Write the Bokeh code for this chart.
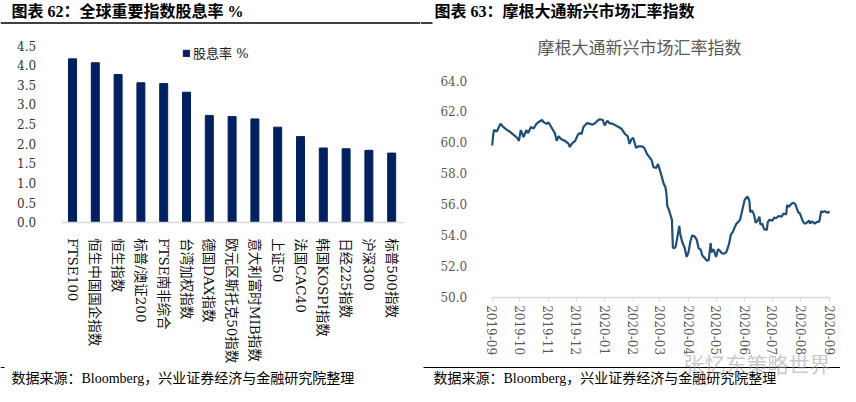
import math
import pandas as pd
from bokeh.plotting import figure
from bokeh.layouts import row
from bokeh.models import (Label, BoxAnnotation, Range1d, FixedTicker, LinearAxis, DatetimeAxis,
                          DatetimeTickFormatter, NumeralTickFormatter, Legend, LegendItem,
                          ColumnDataSource)
from bokeh.embed import file_html
from bokeh.resources import INLINE

# ---------------- data ----------------
categories = ["FTSE100", "恒生中国国企指数", "恒生指数", "标普/澳证200", "FTSE南非综合",
              "台湾加权指数", "德国DAX指数", "欧元区斯托克50指数", "意大利富时MIB指数", "上证50",
              "法国CAC40", "韩国KOSPI指数", "日经225指数", "沪深300", "标普500指数"]
dividend_yield = [4.16, 4.06, 3.76, 3.55, 3.53, 3.31, 2.72, 2.69, 2.63, 2.42,
                  2.18, 1.89, 1.87, 1.83, 1.76]
left_y_ticks = [0.0, 0.5, 1.0, 1.5, 2.0, 2.5, 3.0, 3.5, 4.0, 4.5]

fx_dates = ["2019-09-01", "2019-09-02", "2019-09-03", "2019-09-06", "2019-09-10", "2019-09-13",
            "2019-09-17", "2019-09-20", "2019-09-24", "2019-09-28", "2019-09-30", "2019-10-02",
            "2019-10-05", "2019-10-08", "2019-10-10", "2019-10-13", "2019-10-16", "2019-10-19",
            "2019-10-21", "2019-10-25", "2019-10-27", "2019-10-30", "2019-11-01", "2019-11-05",
            "2019-11-08", "2019-11-10", "2019-11-12", "2019-11-15", "2019-11-19", "2019-11-23",
            "2019-11-24", "2019-11-27", "2019-11-30", "2019-12-03", "2019-12-05", "2019-12-07",
            "2019-12-09", "2019-12-13", "2019-12-16", "2019-12-19", "2019-12-22", "2019-12-24",
            "2019-12-27", "2019-12-30", "2020-01-01", "2020-01-04", "2020-01-06", "2020-01-10",
            "2020-01-16", "2020-01-19", "2020-01-23", "2020-01-26", "2020-01-28", "2020-01-30",
            "2020-02-01", "2020-02-04", "2020-02-07", "2020-02-10", "2020-02-13", "2020-02-16",
            "2020-02-18", "2020-02-21", "2020-02-23", "2020-02-26", "2020-02-28", "2020-03-02",
            "2020-03-05", "2020-03-07", "2020-03-08", "2020-03-09", "2020-03-11", "2020-03-13",
            "2020-03-14", "2020-03-15", "2020-03-16", "2020-03-18", "2020-03-20", "2020-03-22",
            "2020-03-23", "2020-03-25", "2020-03-28", "2020-03-30", "2020-04-01", "2020-04-03",
            "2020-04-05", "2020-04-08", "2020-04-10", "2020-04-12", "2020-04-14", "2020-04-16",
            "2020-04-19", "2020-04-21", "2020-04-23", "2020-04-25", "2020-04-26", "2020-04-28",
            "2020-05-01", "2020-05-03", "2020-05-05", "2020-05-07", "2020-05-09", "2020-05-12",
            "2020-05-15", "2020-05-17", "2020-05-19", "2020-05-21", "2020-05-23", "2020-05-25",
            "2020-05-27", "2020-05-30", "2020-06-01", "2020-06-04", "2020-06-06", "2020-06-07",
            "2020-06-09", "2020-06-11", "2020-06-13", "2020-06-15", "2020-06-17", "2020-06-18",
            "2020-06-20", "2020-06-22", "2020-06-25", "2020-06-26", "2020-06-28", "2020-07-01",
            "2020-07-03", "2020-07-05", "2020-07-08", "2020-07-11", "2020-07-13", "2020-07-16",
            "2020-07-17", "2020-07-19", "2020-07-22", "2020-07-24", "2020-07-26", "2020-07-29",
            "2020-07-31", "2020-08-03", "2020-08-05", "2020-08-07", "2020-08-10", "2020-08-11",
            "2020-08-13", "2020-08-16", "2020-08-18", "2020-08-21", "2020-08-23", "2020-08-25",
            "2020-08-27", "2020-08-30", "2020-09-01"]
fx_values = [59.8, 60.45, 60.8, 60.7, 61.2, 61.0, 60.8, 60.7, 60.5, 60.3, 60.1, 60.8,
             60.35, 60.8, 60.6, 61.0, 60.9, 61.2, 61.3, 61.45, 61.3, 61.2, 61.3, 60.9,
             60.6, 60.1, 60.4, 60.2, 60.1, 59.9, 59.7, 59.95, 60.1, 60.5, 60.6, 60.55,
             61.0, 61.25, 61.2, 61.15, 61.25, 61.4, 61.5, 61.45, 61.1, 61.4, 61.25, 61.2,
             61.0, 60.9, 60.55, 60.4, 59.9, 60.2, 60.3, 59.65, 59.75, 59.75, 59.65, 59.25,
             59.1, 58.85, 58.4, 58.35, 58.6, 58.0, 57.35, 57.1, 56.7, 55.9, 55.6, 55.2,
             55.0, 53.25, 53.15, 53.25, 53.9, 54.6, 54.1, 53.6, 53.15, 52.6, 52.9, 53.6,
             54.0, 53.9, 53.7, 53.15, 53.1, 52.7, 52.5, 52.35, 52.4, 53.5, 52.9, 53.1,
             52.6, 53.1, 53.0, 52.85, 52.8, 52.9, 53.45, 54.05, 54.2, 54.5, 54.75, 54.85,
             55.0, 55.8, 56.3, 56.5, 56.25, 55.5, 55.6, 55.35, 54.8, 54.95, 55.2, 54.7,
             54.75, 54.4, 54.35, 54.85, 55.0, 54.95, 55.15, 55.1, 55.25, 55.2, 55.4, 55.35,
             55.95, 55.85, 56.05, 56.1, 56.0, 55.5, 55.4, 54.9, 54.75, 54.8, 54.95, 54.75,
             54.9, 54.75, 54.85, 54.9, 55.55, 55.5, 55.55, 55.45, 55.55]
month_ticks = ["2019-09-01", "2019-10-01", "2019-11-01", "2019-12-01", "2020-01-01",
               "2020-02-01", "2020-03-01", "2020-04-01", "2020-05-01", "2020-06-01",
               "2020-07-01", "2020-08-01", "2020-09-01"]
right_y_ticks = [50, 52, 54, 56, 58, 60, 62, 64]

header_left = "图表 62：全球重要指数股息率  %"
header_right = "图表 63：摩根大通新兴市场汇率指数"
right_title = "摩根大通新兴市场汇率指数"
source_note = "数据来源：Bloomberg，兴业证券经济与金融研究院整理"
legend_text = "股息率 %"
watermark = "张忆东策略世界"

SERIF = "DejaVu Serif, Noto Sans CJK SC"
HEAD = "Liberation Serif, Noto Sans CJK SC"

W, H = 420, 386


def rule(fig, x0, x1, y, thick=1.3):
    # screen units, relative to the frame (frame = whole figure here); y measured from the top
    fig.add_layout(BoxAnnotation(left=x0, right=x1, top=H - y + thick / 2, bottom=H - y - thick / 2,
                                 left_units="screen", right_units="screen",
                                 top_units="screen", bottom_units="screen",
                                 fill_color="black", fill_alpha=1.0, line_color=None,
                                 line_alpha=0.0))


def text(fig, x, y, s, **kw):
    fig.add_layout(Label(x=x, y=H - y, x_units="screen", y_units="screen", text=s, **kw))


def bare_figure(**kw):
    f = figure(width=W, height=H, output_backend="svg", toolbar_location=None,
               x_axis_location=None, y_axis_location=None, **kw)
    f.min_border = 0
    f.min_border_left = f.min_border_right = f.min_border_top = f.min_border_bottom = 0
    f.title.visible = False
    f.outline_line_color = None
    f.grid.grid_line_color = None
    f.background_fill_color = "white"
    f.border_fill_color = "white"
    return f


# ---------------- left: bar chart ----------------
n = len(categories)
bar_x = [i + 0.5 for i in range(n)]
# view so that category slots 0..n span the plot area, 0..4.5 its height
cat_px = (402.6 - 60.6) / n
y_px = (221.7 - 45.0) / 4.5
p1 = bare_figure(x_range=Range1d(-60.6 / cat_px, n + (W - 402.6) / cat_px),
                 y_range=Range1d(-(H - 221.7) / y_px, 4.5 + 45.0 / y_px))
src1 = ColumnDataSource(dict(x=bar_x, val=dividend_yield, cat=categories))
bars = p1.vbar(x="x", top="val", width=0.35, source=src1, fill_color="#002060",
               line_color="#002060")

ya1 = LinearAxis(fixed_location=0, ticker=FixedTicker(ticks=left_y_ticks),
                 formatter=NumeralTickFormatter(format="0.0"))
ya1.axis_line_color = None
ya1.major_tick_line_color = None
ya1.minor_tick_line_color = None
ya1.major_label_standoff = 19
ya1.major_label_text_font = SERIF
ya1.major_label_text_font_size = "12px"
ya1.major_label_text_color = "#333333"
p1.add_layout(ya1, "left")

xa1 = LinearAxis(fixed_location=0, bounds=(0, n), ticker=FixedTicker(ticks=bar_x),
                 major_label_overrides={bx: c for bx, c in zip(bar_x, categories)})
xa1.axis_line_color = "#d9d9d9"
xa1.axis_line_width = 1.5
xa1.major_tick_line_color = None
xa1.minor_tick_line_color = None
xa1.major_label_orientation = -math.pi / 2
xa1.major_label_standoff = 10
xa1.major_label_text_font = SERIF
xa1.major_label_text_font_size = "13.5px"
xa1.major_label_text_color = "#111111"
p1.add_layout(xa1, "below")

legend = Legend(items=[LegendItem(label=legend_text, renderers=[bars])],
                location=(182, H - 62), padding=0, margin=0, spacing=0,
                glyph_width=8, glyph_height=8, label_standoff=3, label_height=13,
                label_text_font=SERIF, label_text_font_size="13px",
                label_text_color="#222222", border_line_color=None,
                background_fill_alpha=0.0)
p1.add_layout(legend)

text(p1, 11, 2, header_left, text_font=HEAD, text_font_size="16px",
     text_font_style="bold", text_baseline="top", text_color="#000000")
rule(p1, 0, W, 22.5)
rule(p1, 0, 4, 367, 1.0)
text(p1, 11, 378, source_note, text_font=HEAD, text_font_size="14px",
     text_baseline="middle", text_color="#000000")

# ---------------- right: line chart ----------------
t0 = pd.Timestamp(month_ticks[0])
t1 = pd.Timestamp(month_ticks[-1])
day_px = (829.0 - 491.7) / (t1 - t0).days
v_px = (296.7 - 80.0) / 14.0
p2 = bare_figure(x_range=Range1d(t0 - pd.Timedelta(days=(491.7 - 420) / day_px),
                                 t1 + pd.Timedelta(days=(840 - 829.0) / day_px)),
                 y_range=Range1d(50 - (H - 296.7) / v_px, 64 + 80.0 / v_px))
src2 = ColumnDataSource(dict(d=pd.to_datetime(fx_dates), v=fx_values))
p2.line(x="d", y="v", source=src2, line_color="#1F4E79", line_width=2.2)

t0_ms = t0.timestamp() * 1000
t1_ms = t1.timestamp() * 1000
ya2 = LinearAxis(fixed_location=t0_ms, ticker=FixedTicker(ticks=right_y_ticks),
                 formatter=NumeralTickFormatter(format="0.0"))
ya2.axis_line_color = None
ya2.major_tick_line_color = None
ya2.minor_tick_line_color = None
ya2.major_label_standoff = 19
ya2.major_label_text_font = SERIF
ya2.major_label_text_font_size = "12px"
ya2.major_label_text_color = "#595959"
p2.add_layout(ya2, "left")

tick_ms = [pd.Timestamp(t).timestamp() * 1000 for t in month_ticks]
xa2 = DatetimeAxis(fixed_location=50, bounds=(t0_ms, t1_ms), ticker=FixedTicker(ticks=tick_ms),
                   formatter=DatetimeTickFormatter(days="%Y-%m", months="%Y-%m", years="%Y-%m"))
xa2.axis_line_color = "#d9d9d9"
xa2.axis_line_width = 1.5
xa2.major_tick_line_color = "#d9d9d9"
xa2.major_tick_in = 0
xa2.major_tick_out = 4
xa2.minor_tick_line_color = None
xa2.major_label_orientation = -math.pi / 2
xa2.major_label_standoff = 4
xa2.major_label_text_font = SERIF
xa2.major_label_text_font_size = "12px"
xa2.major_label_text_color = "#595959"
p2.add_layout(xa2, "below")

text(p2, 14, 2, header_right, text_font=HEAD, text_font_size="16px",
     text_font_style="bold", text_baseline="top", text_color="#000000")
rule(p2, 0, 12, 22.5)
text(p2, 219, 47, right_title, text_font=SERIF, text_font_size="17px", text_align="center",
     text_baseline="middle", text_color="#595959")
rule(p2, 3, W, 367, 1.0)
text(p2, 13, 378, source_note, text_font=HEAD, text_font_size="14px",
     text_baseline="middle", text_color="#000000")
text(p2, 263, 362, watermark, text_font="Noto Sans CJK SC", text_font_size="21px",
     text_baseline="middle", text_color="#9a9a9a", text_alpha=0.55)

layout = row(p1, p2)
open("out.html", "w").write(file_html(layout, INLINE))
